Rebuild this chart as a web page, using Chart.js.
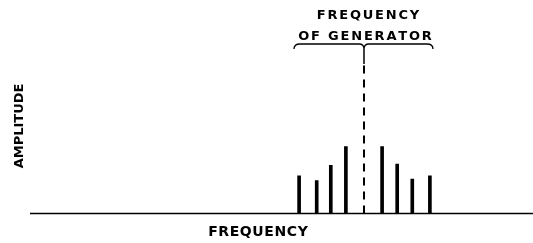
<!DOCTYPE html>
<html>
<head>
<meta charset="utf-8">
<script src="https://cdn.jsdelivr.net/npm/chart.js@4/dist/chart.umd.min.js"></script>
<style>
  html, body { margin: 0; padding: 0; background: #fff; }
  #wrap { width: 533px; height: 243px; position: relative; }
</style>
</head>
<body>
<div id="wrap"><canvas id="c"></canvas></div>
<script>
// Sideband frequencies (arbitrary units) and amplitudes
const sidebandFreqs = [53.5, 57.0, 59.8, 62.8, 70.0, 73.0, 76.0, 79.5];
const sidebandAmps  = [23.1, 20.1, 29.5, 40.9, 40.9, 30.3, 21.1, 23.1];
const generatorFreq = 66.4;
const generatorLineTop = 92;
const xRange = [0, 100];
const yRange = [0, 100];
const titleLines = ["FREQUENCY", "OF GENERATOR"];
const xTitle = "FREQUENCY";
const yTitle = "AMPLITUDE";

function spacedText(ctx, text, cx, cy, spacing) {
  const widths = [...text].map(ch => ctx.measureText(ch).width);
  const total = widths.reduce((a, b) => a + b, 0) + spacing * (text.length - 1);
  let x = cx - total / 2;
  ctx.textAlign = 'left';
  ctx.textBaseline = 'middle';
  [...text].forEach((ch, i) => { ctx.fillText(ch, x, cy); x += widths[i] + spacing; });
}

const decor = {
  id: 'decor',
  beforeDatasetsDraw(chart) {
    const ctx = chart.ctx, a = chart.chartArea;
    const ys = chart.scales.y;
    ctx.save();
    ctx.strokeStyle = '#000';
    ctx.lineWidth = 1.5;
    ctx.beginPath();
    ctx.moveTo(a.left, ys.getPixelForValue(0));
    ctx.lineTo(a.right, ys.getPixelForValue(0));
    ctx.stroke();
    ctx.restore();
  },
  afterDraw(chart) {
    const ctx = chart.ctx;
    const xs = chart.scales.x;
    const gx = xs.getPixelForValue(generatorFreq);
    ctx.save();
    ctx.fillStyle = '#000';
    ctx.font = 'bold 13px "DejaVu Sans"';
    spacedText(ctx, titleLines[0], gx + 4, 16, 1.8);
    spacedText(ctx, titleLines[1], gx + 1, 37, 1.8);
    // curly bracket
    const L = gx - 70, R = gx + 69, yb = 44;
    ctx.strokeStyle = '#000';
    ctx.lineWidth = 1.3;
    ctx.beginPath();
    ctx.moveTo(L, yb + 5);
    ctx.quadraticCurveTo(L, yb, L + 6, yb);
    ctx.lineTo(gx - 5, yb);
    ctx.quadraticCurveTo(gx, yb, gx, yb + 5);
    ctx.quadraticCurveTo(gx, yb, gx + 5, yb);
    ctx.lineTo(R - 6, yb);
    ctx.quadraticCurveTo(R, yb, R, yb + 5);
    ctx.stroke();
    ctx.lineWidth = 1.5;
    ctx.beginPath();
    ctx.moveTo(gx, yb + 5);
    ctx.lineTo(gx, 64);
    ctx.stroke();
    // axis titles
    ctx.font = 'bold 14px "DejaVu Sans"';
    spacedText(ctx, xTitle, 258, 232, 0.6);
    ctx.translate(20, 126);
    ctx.rotate(-Math.PI / 2);
    ctx.font = 'bold 13px "DejaVu Sans"';
    spacedText(ctx, yTitle, 0, 0, 0);
    ctx.restore();
  }
};

new Chart(document.getElementById('c'), {
  type: 'bar',
  data: {
    datasets: [
      {
        type: 'bar',
        data: sidebandFreqs.map((f, i) => ({ x: f, y: sidebandAmps[i] })),
        backgroundColor: '#000',
        borderWidth: 0,
        barThickness: 3
      },
      {
        type: 'line',
        data: [{ x: generatorFreq, y: 0 }, { x: generatorFreq, y: generatorLineTop }],
        borderColor: '#000',
        borderWidth: 2,
        borderDash: [8, 6],
        pointRadius: 0,
        fill: false
      }
    ]
  },
  options: {
    responsive: true,
    maintainAspectRatio: false,
    animation: false,
    layout: { padding: { left: 30, right: 0, top: 50, bottom: 29.5 } },
    plugins: { legend: { display: false }, tooltip: { enabled: false } },
    scales: {
      x: { type: 'linear', min: xRange[0], max: xRange[1], display: false, offset: false },
      y: { min: yRange[0], max: yRange[1], display: false }
    }
  },
  plugins: [decor]
});
</script>
</body>
</html>
